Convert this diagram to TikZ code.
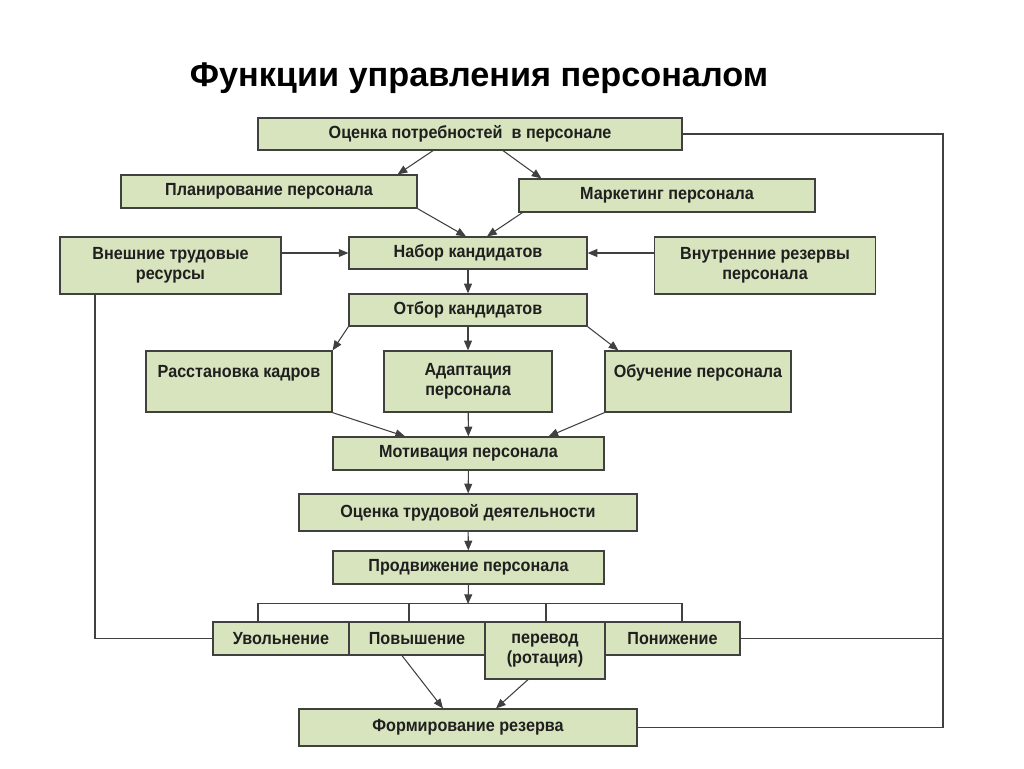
\documentclass[tikz,border=0pt]{standalone}
\usepackage{fontspec}
\setmainfont{Liberation Sans}
\newfontfamily\narrowfont{Liberation Sans}[FakeStretch=0.92]
\usetikzlibrary{arrows.meta,graphs}
\definecolor{boxgreen}{HTML}{D7E4BD}
\tikzset{
  box/.style={draw=black!75, line width=0.7pt, fill=boxgreen, align=center, text=black!88,
    inner sep=0pt, font=\narrowfont\bfseries\fontsize{10}{11.6}\selectfont},
  line/.style={draw=black!75, line width=0.6pt}
}

\begin{document}
\begin{tikzpicture}[x=0.02cm, y=-0.02cm, >={Triangle[length=5.5pt,width=4.5pt]}]
  \useasboundingbox (0,0) rectangle (1024,768);
  \node (t) at (479,78) {\bfseries\fontsize{19.5}{23}\selectfont Функции управления персоналом};
  \node[box, minimum width=8.48cm, minimum height=0.64cm] (ocenka) at (470,134) {Оценка потребностей\ \ в персонале};
  \node[box, minimum width=5.92cm, minimum height=0.66cm] (plan) at (269,191.5) {Планирование персонала};
  \node[box, minimum width=5.92cm, minimum height=0.66cm] (market) at (667,195.5) {Маркетинг персонала};
  \node[box, minimum width=4.42cm, minimum height=1.14cm] (vnesh) at (170.5,265.5) {Внешние трудовые\\ресурсы};
  \node[box, minimum width=4.76cm, minimum height=0.64cm] (nabor) at (468,253) {Набор кандидатов};
  \node[box, minimum width=4.42cm, minimum height=1.14cm] (vnutr) at (765,265.5) {Внутренние резервы\\персонала};
  \node[box, minimum width=4.76cm, minimum height=0.64cm] (otbor) at (468,310) {Отбор кандидатов};
  \node[box, minimum width=3.72cm, minimum height=1.22cm] (rasst) at (239,381.5) {Расстановка кадров\\\mbox{}};
  \node[box, minimum width=3.36cm, minimum height=1.22cm] (adapt) at (468,381.5) {Адаптация\\персонала};
  \node[box, minimum width=3.72cm, minimum height=1.22cm] (obuch) at (698,381.5) {Обучение персонала\\\mbox{}};
  \node[box, minimum width=5.42cm, minimum height=0.66cm] (motiv) at (468.5,453.5) {Мотивация персонала};
  \node[box, minimum width=6.76cm, minimum height=0.74cm] (trud) at (468,512.5) {Оценка трудовой деятельности};
  \node[box, minimum width=5.42cm, minimum height=0.66cm] (prodv) at (468.5,567.5) {Продвижение персонала};
  \node[box, minimum width=2.72cm, minimum height=0.66cm] (uvol) at (281,638.5) {Увольнение};
  \node[box, minimum width=2.72cm, minimum height=0.66cm] (povysh) at (417,638.5) {Повышение};
  \node[box, minimum width=2.40cm, minimum height=1.14cm] (perevod) at (545,650.5) {перевод\\(ротация)};
  \node[box, minimum width=2.70cm, minimum height=0.66cm] (ponizh) at (672.5,638.5) {Понижение};
  \node[box, minimum width=6.76cm, minimum height=0.74cm] (formir) at (468,727.5) {Формирование резерва};
  \coordinate (bus) at (468,604);
  \coordinate (rgt) at (943,0);

  \graph[use existing nodes, edges={line}] {
    nabor -> otbor -> adapt -> motiv -> trud -> prodv;
  };
  \draw[line, ->] ([xshift=-0.74cm]ocenka.south) -- ([xshift=-0.4cm]plan.north east);
  \draw[line, ->] ([xshift=0.66cm]ocenka.south) -- ([xshift=0.46cm]market.north west);
  \draw[line, ->] (plan.south east) -- ([xshift=-0.04cm]nabor.north);
  \draw[line, ->] ([xshift=0.08cm]market.south west) -- ([xshift=0.38cm]nabor.north);
  \draw[line, ->] (nabor.west -| vnesh.east) -- (nabor.west);
  \draw[line, ->] (nabor.east -| vnutr.west) -- (nabor.east);
  \draw[line, ->] (otbor.south west) -- (rasst.north east);
  \draw[line, ->] (otbor.south east) -- ([xshift=0.28cm]obuch.north west);
  \draw[line, ->] (rasst.south east) -- ([xshift=-1.27cm]motiv.north);
  \draw[line, ->] (obuch.south west) -- ([xshift=1.6cm]motiv.north);
  \draw[line, ->] (prodv.south) -- (bus);
  \draw[line] ([xshift=-0.46cm]uvol.north) -- ++(0,-18) -| ([xshift=0.19cm]ponizh.north);
  \draw[line] ([xshift=-0.16cm]povysh.north) -- ++(0,-18);
  \draw[line] ([xshift=0.02cm]perevod.north) -- ++(0,-18);
  \draw[line] ([xshift=-1.51cm]vnesh.south) |- (uvol.west);
  \draw[line] (ocenka.east) -- (ocenka.east -| rgt) |- (formir.east);
  \draw[line] (ponizh.east) -- (ponizh.east -| rgt);
  \draw[line, ->] ([xshift=-0.3cm]povysh.south) -- ([xshift=-0.5cm]formir.north);
  \draw[line, ->] ([xshift=-0.34cm]perevod.south) -- ([xshift=0.56cm]formir.north);
\end{tikzpicture}
\end{document}
